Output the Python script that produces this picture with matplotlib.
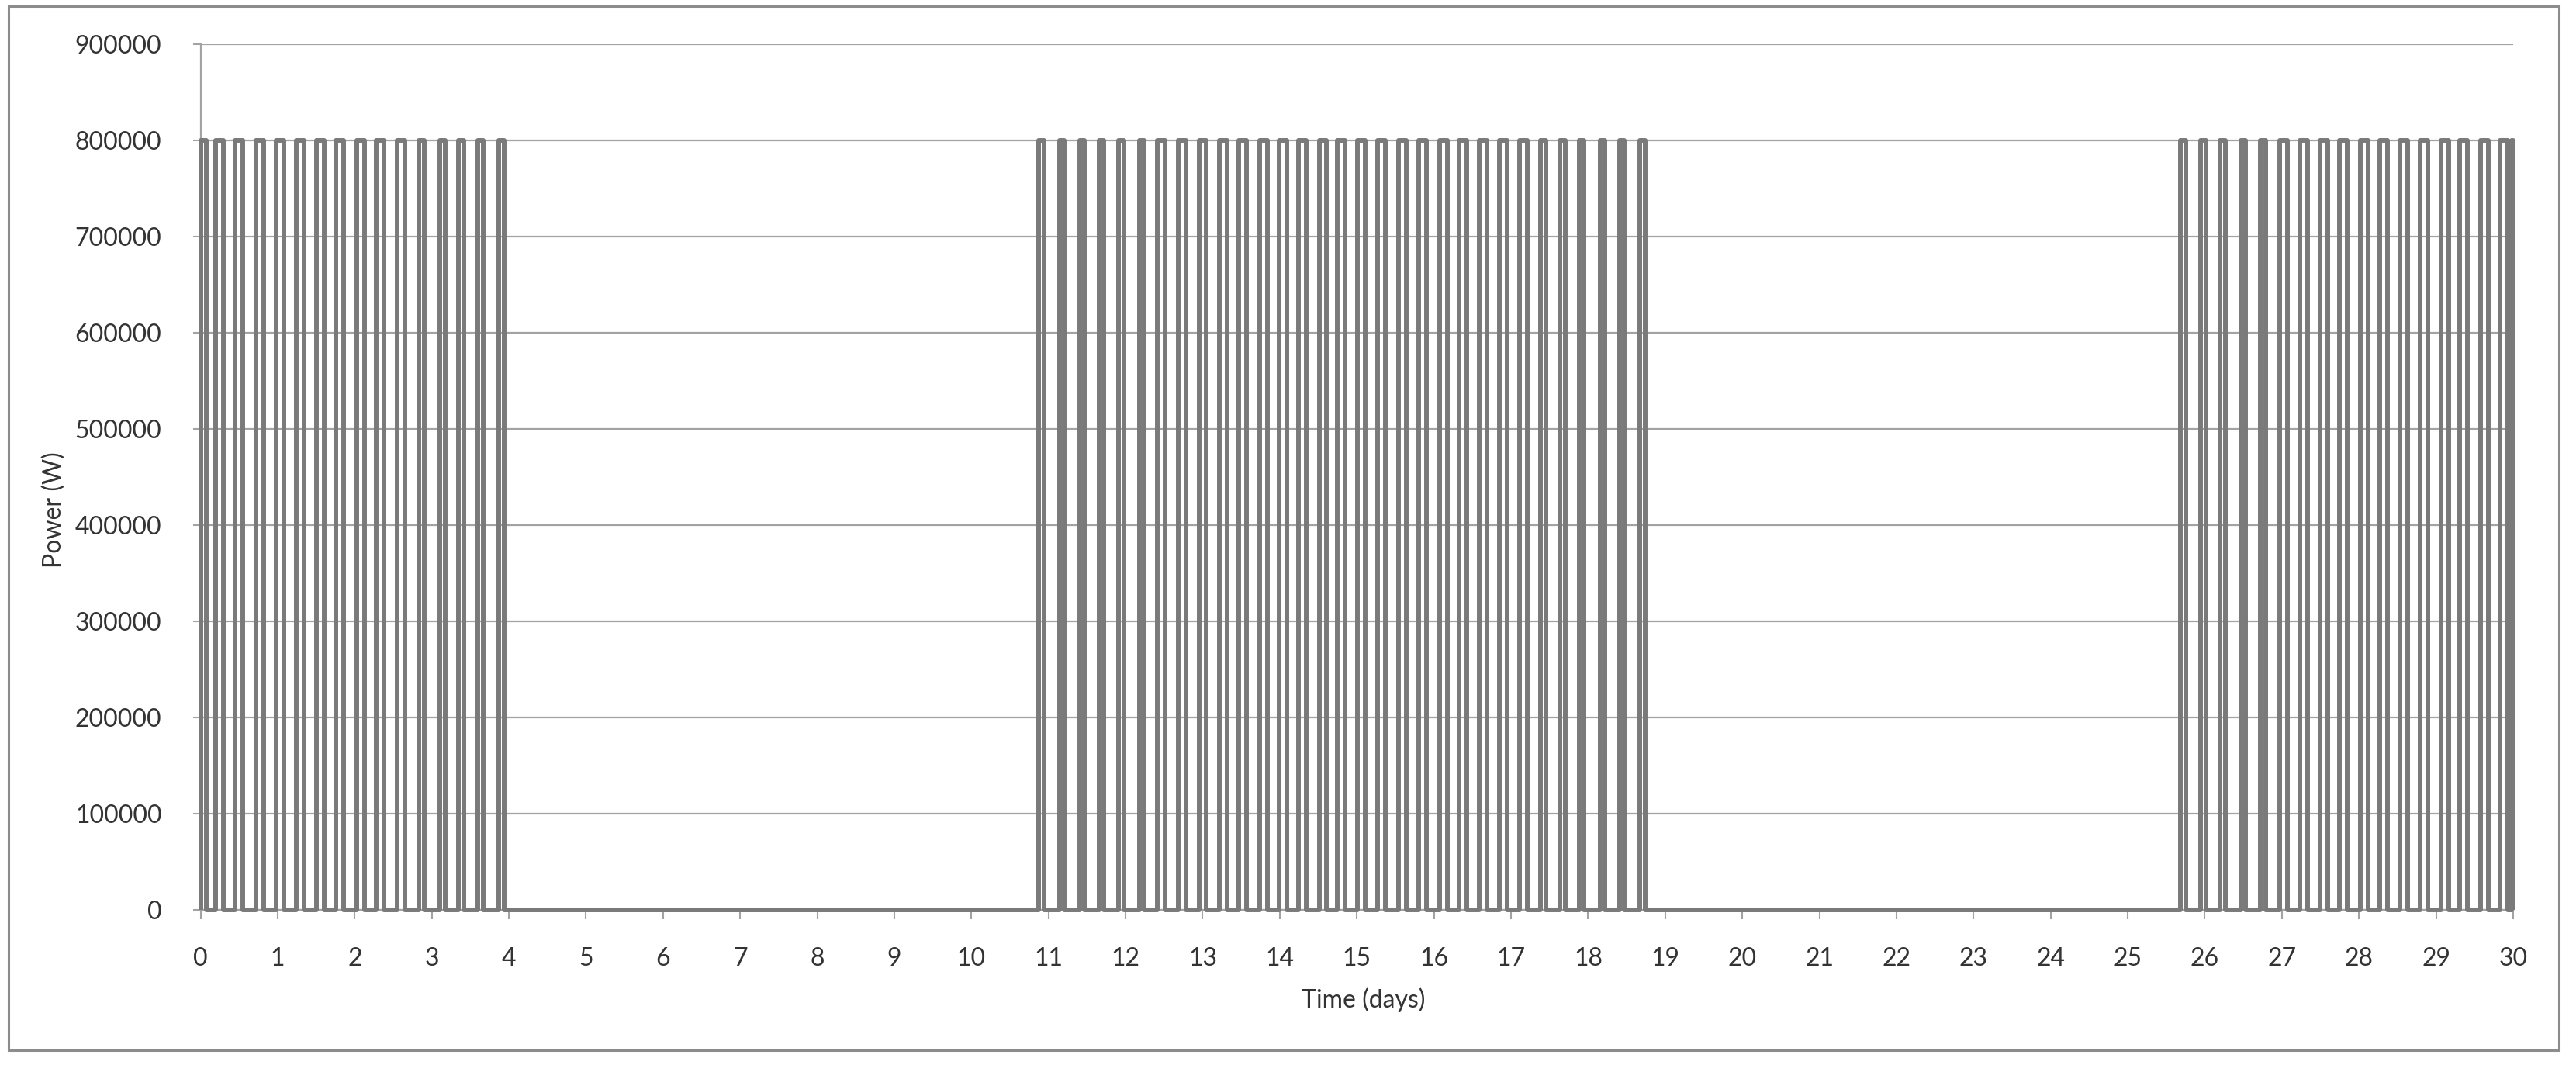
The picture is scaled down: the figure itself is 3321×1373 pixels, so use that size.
import matplotlib
matplotlib.use("Agg")
import matplotlib.pyplot as plt
from matplotlib.patches import Rectangle

# ---------------- data ----------------
peak_power = 800000  # W

# pulse switch-on / switch-off times (days), block 1
on_1 = [0.00, 0.20, 0.45, 0.72, 0.98, 1.24, 1.50, 1.76, 2.03, 2.28, 2.55,
        2.83, 3.10, 3.35, 3.60, 3.87]
off_1 = [0.08, 0.30, 0.55, 0.82, 1.08, 1.34, 1.60, 1.86, 2.13, 2.38, 2.65,
         2.90, 3.17, 3.42, 3.67, 3.94]

# block 2
on_2 = [10.87, 11.14, 11.41, 11.66, 11.91, 12.18,
        12.41, 12.68, 12.95, 13.22, 13.47, 13.74, 13.99, 14.24, 14.51, 14.75,
        15.01, 15.27, 15.54, 15.80, 16.07, 16.33, 16.59, 16.85, 17.11,
        17.38, 17.63, 17.885, 18.155, 18.405, 18.675]
off_2 = [10.94, 11.20, 11.47, 11.72, 11.98, 12.245,
         12.51, 12.78, 13.05, 13.32, 13.57, 13.84, 14.09, 14.34, 14.61, 14.85,
         15.11, 15.37, 15.64, 15.90, 16.17, 16.43, 16.69, 16.95, 17.21,
         17.45, 17.70, 17.95, 18.22, 18.47, 18.74]

# block 3
on_3 = [25.68, 25.95, 26.20, 26.465, 26.72,
        26.975, 27.23, 27.495, 27.75, 28.015, 28.27, 28.535, 28.79, 29.06,
        29.31, 29.58, 29.83, 29.98]
off_3 = [25.75, 26.02, 26.27, 26.53, 26.79,
         27.075, 27.33, 27.595, 27.85, 28.115, 28.37, 28.635, 28.89, 29.16,
         29.41, 29.68, 29.93, 30.00]

x_ticks = list(range(0, 31))
x_tick_labels = [str(v) for v in x_ticks]
y_ticks = [0, 100000, 200000, 300000, 400000, 500000, 600000, 700000, 800000, 900000]
y_tick_labels = [str(v) for v in y_ticks]

# ---------------- build the square-wave series ----------------
times, power = [], []
for ons, offs in ((on_1, off_1), (on_2, off_2), (on_3, off_3)):
    for t_on, t_off in zip(ons, offs):
        times += [t_on, t_on, t_off, t_off]
        power += [0, peak_power, peak_power, 0]

# ---------------- figure ----------------
W, H = 3321, 1373
FONT = ["Lato", "DejaVu Sans"]
TXT = "#333333"
GRID = "#a3a3a3"
LINE = "#7a7a7a"

fig = plt.figure(figsize=(W / 100, H / 100), dpi=100)
fig.patch.set_facecolor("white")

x0, x1 = 258.5, 3240
y_top, y_bot = 57, 1173
ax = fig.add_axes([x0 / W, 1 - y_bot / H, (x1 - x0) / W, (y_bot - y_top) / H])

ax.plot(times, power, color=LINE, lw=4.3, solid_joinstyle="round",
        solid_capstyle="butt", clip_on=False, zorder=3)

ax.set_xlim(0, 30)
ax.set_ylim(0, 900000)
ax.set_xticks(x_ticks)
ax.set_xticklabels(x_tick_labels)
ax.set_yticks(y_ticks)
ax.set_yticklabels(y_tick_labels)

for lab in ax.get_xticklabels() + ax.get_yticklabels():
    lab.set_family(FONT)
    lab.set_fontsize(23)
    lab.set_color(TXT)

ax.tick_params(axis="x", direction="out", length=8.6, width=1.5, color=GRID, pad=26)
ax.tick_params(axis="y", direction="out", length=7, width=1.5, color=GRID, pad=29)

ax.grid(axis="y", color=GRID, lw=1.6, zorder=0)
ax.set_axisbelow(True)
for s in ("top", "right"):
    ax.spines[s].set_visible(False)
for s in ("left", "bottom"):
    ax.spines[s].set_color(GRID)
    ax.spines[s].set_linewidth(1.6)

fig.text(70 / W, 1 - 657 / H, "Power (W)", rotation=90, ha="center", va="center",
         fontsize=23, color=TXT, family=FONT)
fig.text(1758 / W, 1 - 1289 / H, "Time (days)", ha="center", va="center",
         fontsize=23, color=TXT, family=FONT)

# outer chart border
fig.patches.append(Rectangle((11 / W, 1 - 1354 / H), (3299 - 11) / W, (1354 - 8) / H,
                             transform=fig.transFigure, fill=False,
                             edgecolor="#8c8c8c", lw=2.2))

fig.savefig("out.png", dpi=100, facecolor="white")
